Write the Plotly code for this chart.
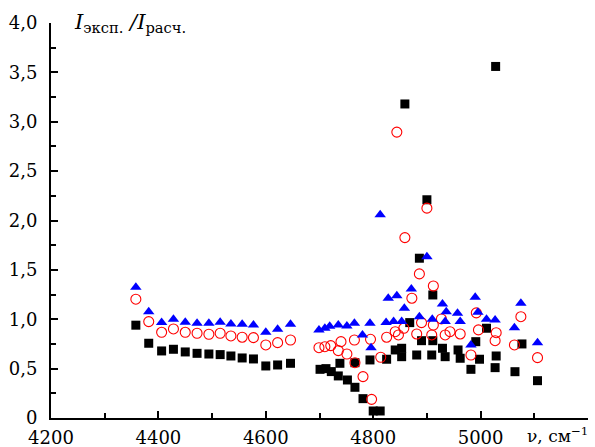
import plotly.graph_objects as go

# Black squares
sq_x = [4358, 4382, 4406, 4428, 4450, 4472, 4494, 4515, 4535, 4556, 4577, 4600, 4622, 4646,
        4701, 4712, 4722, 4735, 4738, 4752, 4766, 4766, 4781, 4794, 4800, 4813,
        4825, 4841, 4853, 4853, 4859, 4868, 4881, 4886, 4890, 4900, 4909, 4911, 4911,
        4929, 4934, 4958, 4962, 4982, 4991, 4998, 5011, 5027, 5028, 5029, 5064, 5077, 5106]
sq_y = [0.94, 0.757, 0.679, 0.696, 0.669, 0.655, 0.648, 0.642, 0.628, 0.608, 0.598, 0.527, 0.537, 0.554,
        0.493, 0.50, 0.47, 0.426, 0.554, 0.385, 0.56, 0.311, 0.196, 0.588, 0.071, 0.071,
        0.595, 0.689, 0.706, 0.621, 3.18, 0.966, 0.638, 1.618, 0.783, 2.21, 0.638, 1.246, 0.783,
        0.706, 0.621, 0.689, 0.605, 0.493, 0.773, 0.595, 0.909, 0.51, 3.56, 0.628, 0.469, 0.750, 0.378]

# Red open circles
ci_x = [4358, 4382, 4406, 4428, 4450, 4472, 4494, 4515, 4535, 4556, 4577, 4600, 4622, 4646,
        4699, 4710, 4721, 4735, 4740, 4751, 4765, 4766, 4781, 4795, 4797, 4814,
        4825, 4841, 4844, 4847, 4857, 4859, 4872, 4881, 4886, 4890, 4900, 4909, 4912, 4912,
        4927, 4934, 4943, 4962, 4982, 4992, 4996, 5027, 5029, 5063, 5075, 5106]
ci_y = [1.203, 0.976, 0.868, 0.902, 0.868, 0.858, 0.848, 0.858, 0.831, 0.818, 0.814, 0.740, 0.763, 0.790,
        0.712, 0.722, 0.733, 0.682, 0.773, 0.648, 0.790, 0.560, 0.419, 0.797, 0.189, 0.615,
        0.818, 0.874, 2.895, 0.841, 0.909, 1.827, 1.213, 0.851, 1.459, 0.966, 2.125, 0.841, 1.337, 0.942,
        1.003, 0.841, 0.874, 0.851, 0.638, 1.065, 0.892, 0.783, 0.864, 0.740, 1.026, 0.611]

# Blue triangles
tr_x = [4358, 4382, 4406, 4428, 4450, 4472, 4494, 4515, 4535, 4556, 4577, 4600, 4622, 4646,
        4699, 4710, 4719, 4735, 4751, 4765, 4780, 4794, 4796, 4813,
        4824, 4828, 4838, 4844, 4853, 4858, 4871, 4886, 4900, 4910, 4929, 4934, 4936,
        4957, 4962, 4982, 4990, 4995, 5011, 5027, 5063, 5075, 5106]
tr_y = [1.324, 1.077, 0.966, 1.0, 0.969, 0.959, 0.960, 0.969, 0.952, 0.949, 0.942, 0.868, 0.899, 0.949,
        0.89, 0.91, 0.93, 0.942, 0.932, 0.959, 0.841, 0.959, 0.712, 2.057,
        0.966, 1.213, 0.976, 1.239, 0.976, 1.111, 1.307, 1.026, 1.634, 1.0, 1.155, 0.976, 1.077,
        1.061, 0.976, 0.740, 1.223, 1.071, 1.0, 0.993, 0.915, 1.162, 0.763]

x_tickvals = [4200, 4400, 4600, 4800, 5000, 5200]
x_ticktext = ["4200", "4400", "4600", "4800", "5000", ""]
y_tickvals = [0, 0.5, 1.0, 1.5, 2.0, 2.5, 3.0, 3.5, 4.0]
y_ticktext = ["0", "0,5", "1,0", "1,5", "2,0", "2,5", "3,0", "3,5", "4,0"]

FONT = "DejaVu Serif"

fig = go.Figure()
fig.add_trace(go.Scatter(x=sq_x, y=sq_y, mode="markers",
                         marker=dict(symbol="square", size=9, color="black", line=dict(width=0))))
fig.add_trace(go.Scatter(x=ci_x, y=ci_y, mode="markers",
                         marker=dict(symbol="circle-open", size=10, color="#ff0000", line=dict(width=1.1))))
fig.add_trace(go.Scatter(x=tr_x, y=tr_y, mode="markers",
                         marker=dict(symbol="triangle-up", size=10, color="#0000ff", line=dict(width=0))))

fig.update_layout(
    width=595, height=447,
    margin=dict(l=51, r=7, t=23, b=29, autoexpand=False),
    plot_bgcolor="white", paper_bgcolor="white",
    showlegend=False,
    font=dict(family=FONT, size=18, color="black"),
    xaxis=dict(range=[4200, 5200], showgrid=False, zeroline=False, automargin=False,
               showline=True, linecolor="black", linewidth=2,
               ticks="inside", ticklen=7, tickwidth=1.5, tickcolor="black",
               tickvals=x_tickvals, ticktext=x_ticktext,
               ticklabelstandoff=2,
               minor=dict(tickvals=[4300, 4500, 4700, 4900, 5100], ticks="inside",
                          ticklen=5, tickwidth=1.5, tickcolor="black"),
               tickfont=dict(family=FONT, size=18)),
    yaxis=dict(range=[0, 4], showgrid=False, zeroline=False, automargin=False,
               showline=True, linecolor="black", linewidth=2,
               ticks="inside", ticklen=7, tickwidth=1.5, tickcolor="black",
               tickvals=y_tickvals, ticktext=y_ticktext,
               ticklabelstandoff=8,
               minor=dict(dtick=0.25, ticks="inside", ticklen=5, tickwidth=1.5, tickcolor="black"),
               tickfont=dict(family=FONT, size=18)),
)

fig.add_annotation(xref="paper", yref="paper", x=0.04, y=1.0, xanchor="left", yanchor="middle",
                   text="<i>I</i><sub>эксп.</sub> <i>/</i><i>I</i><sub>расч.</sub>",
                   showarrow=False, font=dict(family=FONT, size=21))
fig.add_annotation(xref="paper", yref="paper", x=1.0, y=0, xanchor="right", yanchor="top",
                   yshift=-4, xshift=2,
                   text="ν, см<sup>−1</sup>", showarrow=False, font=dict(family=FONT, size=17))

fig.write_html("out.html",
               config={"displayModeBar": False},
               post_script="document.body.style.margin='0';document.body.style.padding='0';"
                           "document.documentElement.style.overflow='hidden';")
